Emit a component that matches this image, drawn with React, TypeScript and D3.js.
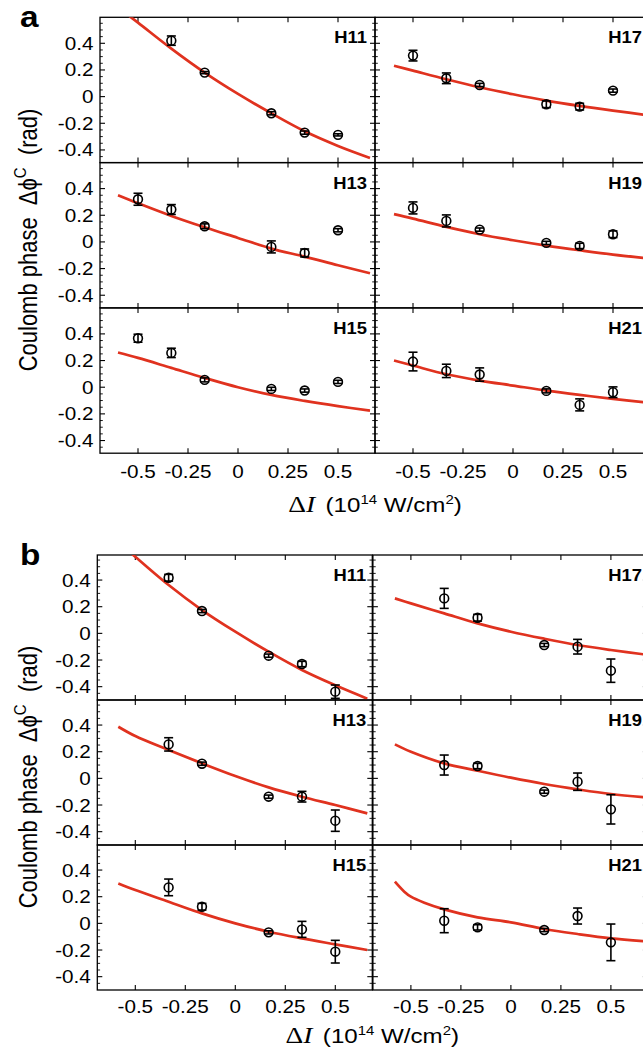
import React from "react";
import * as d3 from "d3";

// ---------- data ----------
const X_TICKS = [-0.5, -0.25, 0, 0.25, 0.5];
const X_TICK_LABELS = ["-0.5", "-0.25", "0", "0.25", "0.5"];
const Y_TICKS = [0.4, 0.2, 0, -0.2, -0.4];
const Y_TICK_LABELS = ["0.4", "0.2", "0", "-0.2", "-0.4"];
const Y_MINOR = [-0.45, -0.35, -0.3, -0.25, -0.15, -0.1, -0.05, 0.05, 0.1, 0.15, 0.25, 0.3, 0.35, 0.45, 0.5, 0.55];
const HARM_LEFT = ["H11", "H13", "H15"];
const HARM_RIGHT = ["H17", "H19", "H21"];

const X6 = [-0.5, -1 / 3, -1 / 6, 1 / 6, 1 / 3, 0.5];
const X5 = [-1 / 3, -1 / 6, 1 / 6, 1 / 3, 0.5];

// panel a measurements
const A_H11_Y = [0.42, 0.18, -0.125, -0.27, -0.287];
const A_H11_E = [0.035, 0.008, 0.012, 0.012, 0.008];
const A_H13_Y = [0.32, 0.243, 0.1175, -0.0375, -0.083, 0.0875];
const A_H13_E = [0.045, 0.037, 0.018, 0.045, 0.03, 0.012];
const A_H15_Y = [0.3675, 0.2575, 0.055, -0.0125, -0.025, 0.04];
const A_H15_E = [0.03, 0.035, 0.015, 0.012, 0.012, 0.012];
const A_H17_Y = [0.3075, 0.1375, 0.0875, -0.0575, -0.075, 0.045];
const A_H17_E = [0.04, 0.04, 0.012, 0.025, 0.025, 0.012];
const A_H19_Y = [0.255, 0.1575, 0.0925, -0.0075, -0.03, 0.0575];
const A_H19_E = [0.045, 0.045, 0.012, 0.012, 0.02, 0.025];
const A_H21_Y = [0.1925, 0.1225, 0.095, -0.0275, -0.1325, -0.0375];
const A_H21_E = [0.07, 0.05, 0.05, 0.015, 0.045, 0.04];

// panel b measurements
const B_H11_Y = [0.4175, 0.1675, -0.1675, -0.23, -0.4375];
const B_H11_E = [0.025, 0.012, 0.012, 0.02, 0.05];
const B_H13_Y = [0.255, 0.11, -0.1375, -0.1375, -0.3175];
const B_H13_E = [0.05, 0.012, 0.012, 0.04, 0.08];
const B_H15_Y = [0.27, 0.125, -0.0675, -0.045, -0.2125];
const B_H15_E = [0.0625, 0.025, 0.012, 0.06, 0.085];
const B_H17_Y = [0.2625, 0.1175, -0.0875, -0.1, -0.28];
const B_H17_E = [0.075, 0.025, 0.012, 0.055, 0.0875];
const B_H19_Y = [0.1, 0.0925, -0.1, -0.025, -0.2325];
const B_H19_E = [0.075, 0.02, 0.012, 0.065, 0.11];
const B_H21_Y = [0.02, -0.03, -0.05, 0.055, -0.1425];
const B_H21_E = [0.09, 0.02, 0.012, 0.06, 0.1375];

// theory curves
const CX_A = [-0.6, -0.5, -1 / 3, -1 / 6, 0, 1 / 6, 1 / 3, 0.5, 0.66];
const CX_AR = [-0.595, -0.5, -1 / 3, -1 / 6, 0, 1 / 6, 1 / 3, 0.5, 0.69];
const CX_B = [-0.585, -0.5, -1 / 3, -1 / 6, 0, 1 / 6, 1 / 3, 0.5, 0.66];
const CX_BR = [-0.58, -0.5, -1 / 3, -1 / 6, 0, 1 / 6, 1 / 3, 0.5, 0.69];
const CX_B21 = [-0.58, -0.533, -0.5, -0.433, -1 / 3, -1 / 6, 0, 1 / 6, 1 / 3, 0.5, 0.69];

const A_H11_C = [0.67, 0.555, 0.36, 0.18, 0.02, -0.125, -0.26, -0.37, -0.46];
const A_H13_C = [0.35, 0.29, 0.195, 0.11, 0.03, -0.05, -0.11, -0.175, -0.235];
const A_H15_C = [0.26, 0.22, 0.145, 0.07, 0.0, -0.058, -0.103, -0.142, -0.175];
const A_H17_C = [0.232, 0.195, 0.13, 0.07, 0.0175, -0.03, -0.07, -0.105, -0.142];
const A_H19_C = [0.208, 0.175, 0.1125, 0.0575, 0.0125, -0.0275, -0.0625, -0.095, -0.125];
const A_H21_C = [0.2, 0.1625, 0.097, 0.05, 0.0125, -0.025, -0.0575, -0.0875, -0.1175];

const B_H11_C = [0.69, 0.575, 0.3625, 0.175, 0.0125, -0.1375, -0.275, -0.39, -0.49];
const B_H13_C = [0.3875, 0.3175, 0.2125, 0.1125, 0.0175, -0.0675, -0.1375, -0.2, -0.2625];
const B_H15_C = [0.3, 0.25, 0.1625, 0.075, 0.0, -0.0625, -0.1125, -0.1575, -0.2];
const B_H17_C = [0.2625, 0.225, 0.15, 0.075, 0.0125, -0.04, -0.0875, -0.125, -0.1625];
const B_H19_C = [0.255, 0.2, 0.1125, 0.0575, 0.005, -0.0425, -0.0825, -0.1175, -0.145];
const B_H21_C = [0.3125, 0.2375, 0.2, 0.155, 0.105, 0.045, 0.0075, -0.0425, -0.08, -0.1125, -0.1375];

// ---------- layout ----------
const W = 643;
const H = 1055;
const COL_W = 275;
const FONT = "'Liberation Sans', Arial, Helvetica, sans-serif";
const SERIF = "'Liberation Serif', 'Times New Roman', serif";
const SX = 1.15;
const RED = "#e0321f";

const FIGS = [
  { key: "a", left: 100, colStep: 275, top: 17.3, rowH: 145.3, yDom: [-0.495, 0.595], hInset: 8, tickLabBase: 25, titleBase: 512, yTitleC: 240 },
  { key: "b", left: 97.3, colStep: 275.6, top: 555, rowH: 145, yDom: [-0.5, 0.588], hInset: 6, tickLabBase: 23, titleBase: 1043, yTitleC: 777 },
];

type P = { fig: number; col: number; row: number; name: string; px: number[]; py: number[]; pe: number[]; cx: number[]; cy: number[] };

const PANELS: P[] = [
  { fig: 0, col: 0, row: 0, name: HARM_LEFT[0], px: X5, py: A_H11_Y, pe: A_H11_E, cx: CX_A, cy: A_H11_C },
  { fig: 0, col: 0, row: 1, name: HARM_LEFT[1], px: X6, py: A_H13_Y, pe: A_H13_E, cx: CX_A, cy: A_H13_C },
  { fig: 0, col: 0, row: 2, name: HARM_LEFT[2], px: X6, py: A_H15_Y, pe: A_H15_E, cx: CX_A, cy: A_H15_C },
  { fig: 0, col: 1, row: 0, name: HARM_RIGHT[0], px: X6, py: A_H17_Y, pe: A_H17_E, cx: CX_AR, cy: A_H17_C },
  { fig: 0, col: 1, row: 1, name: HARM_RIGHT[1], px: X6, py: A_H19_Y, pe: A_H19_E, cx: CX_AR, cy: A_H19_C },
  { fig: 0, col: 1, row: 2, name: HARM_RIGHT[2], px: X6, py: A_H21_Y, pe: A_H21_E, cx: CX_AR, cy: A_H21_C },
  { fig: 1, col: 0, row: 0, name: HARM_LEFT[0], px: X5, py: B_H11_Y, pe: B_H11_E, cx: CX_B, cy: B_H11_C },
  { fig: 1, col: 0, row: 1, name: HARM_LEFT[1], px: X5, py: B_H13_Y, pe: B_H13_E, cx: CX_B, cy: B_H13_C },
  { fig: 1, col: 0, row: 2, name: HARM_LEFT[2], px: X5, py: B_H15_Y, pe: B_H15_E, cx: CX_B, cy: B_H15_C },
  { fig: 1, col: 1, row: 0, name: HARM_RIGHT[0], px: X5, py: B_H17_Y, pe: B_H17_E, cx: CX_BR, cy: B_H17_C },
  { fig: 1, col: 1, row: 1, name: HARM_RIGHT[1], px: X5, py: B_H19_Y, pe: B_H19_E, cx: CX_BR, cy: B_H19_C },
  { fig: 1, col: 1, row: 2, name: HARM_RIGHT[2], px: X5, py: B_H21_Y, pe: B_H21_E, cx: CX_B21, cy: B_H21_C },
];

const xScale = d3.scaleLinear().domain([-0.69, 0.685]).range([0, COL_W]);

function Panel({ p, idx }: { p: P; idx: number }) {
  const f = FIGS[p.fig];
  const ox = f.left + p.col * f.colStep;
  const oy = f.top + p.row * f.rowH;
  const y = d3.scaleLinear().domain(f.yDom).range([f.rowH, 0]);
  const line = d3
    .line<number>()
    .x((_, i) => xScale(p.cx[i]))
    .y((d) => y(d))
    .curve(d3.curveCatmullRom.alpha(0.5));
  const clipId = `clip${idx}`;
  const cap = 4.5;
  return (
    <g transform={`translate(${ox},${oy})`}>
      <defs>
        <clipPath id={clipId}>
          <rect x={0} y={0} width={COL_W} height={f.rowH} />
        </clipPath>
      </defs>
      <rect x={0} y={0} width={COL_W} height={f.rowH} fill="none" stroke="#000" strokeWidth={1.3} />
      {X_TICKS.map((t) => (
        <g key={"xt" + t}>
          <line x1={xScale(t)} x2={xScale(t)} y1={0} y2={5} stroke="#000" strokeWidth={1.1} />
          <line x1={xScale(t)} x2={xScale(t)} y1={f.rowH} y2={f.rowH - 5} stroke="#000" strokeWidth={1.1} />
        </g>
      ))}
      {Y_TICKS.map((t) => (
        <g key={"yt" + t}>
          <line x1={0} x2={5} y1={y(t)} y2={y(t)} stroke="#000" strokeWidth={1.1} />
          <line x1={COL_W} x2={COL_W - 5} y1={y(t)} y2={y(t)} stroke="#000" strokeWidth={1.1} />
        </g>
      ))}
      {Y_MINOR.map((t) => (
        <g key={"ym" + t}>
          <line x1={0} x2={2.8} y1={y(t)} y2={y(t)} stroke="#000" strokeWidth={0.9} />
          <line x1={COL_W} x2={COL_W - 2.8} y1={y(t)} y2={y(t)} stroke="#000" strokeWidth={0.9} />
        </g>
      ))}
      <g clipPath={`url(#${clipId})`}>
        <path d={line(p.cy) || ""} fill="none" stroke={RED} strokeWidth={2.7} />
      </g>
      {p.py.map((v, i) => {
        const cx = xScale(p.px[i]);
        const e = p.pe[i];
        const y1 = y(v + e);
        const y2 = y(v - e);
        return (
          <g key={"pt" + i} stroke="#000" fill="none">
            <line x1={cx} x2={cx} y1={y1} y2={y2} strokeWidth={1.6} />
            <line x1={cx - cap} x2={cx + cap} y1={y1} y2={y1} strokeWidth={1.6} />
            <line x1={cx - cap} x2={cx + cap} y1={y2} y2={y2} strokeWidth={1.6} />
            <circle cx={cx} cy={y(v)} r={4.4} strokeWidth={1.6} />
          </g>
        );
      })}
      <text
        transform={`translate(${COL_W - f.hInset},${26}) scale(${SX},1)`}
        textAnchor="end"
        fontFamily={FONT}
        fontWeight="bold"
        fontSize={16}
      >
        {p.name}
      </text>
      {p.col === 0 &&
        Y_TICKS.map((t, i) => (
          <text
            key={"yl" + t}
            transform={`translate(${-6.5},${y(t) + 6.5}) scale(${SX},1)`}
            textAnchor="end"
            fontFamily={FONT}
            fontSize={18}
          >
            {Y_TICK_LABELS[i]}
          </text>
        ))}
      {p.row === 2 &&
        X_TICKS.map((t, i) => (
          <text
            key={"xl" + t}
            transform={`translate(${xScale(t)},${f.rowH + f.tickLabBase}) scale(${SX},1)`}
            textAnchor="middle"
            fontFamily={FONT}
            fontSize={18}
          >
            {X_TICK_LABELS[i]}
          </text>
        ))}
    </g>
  );
}

export default function App() {
  return (
    <svg
      width={W}
      height={H}
      viewBox={`0 0 ${W} ${H}`}
      style={{ position: "absolute", left: 0, top: 0, background: "#fff" }}
    >
      <rect x={0} y={0} width={W} height={H} fill="#fff" />
      {PANELS.map((p, i) => (
        <Panel key={i} p={p} idx={i} />
      ))}
      {FIGS.map((f) => (
        <g key={f.key}>
          <text
            transform={`translate(${20},${f.top + 10}) scale(${SX},1)`}
            fontFamily={FONT}
            fontWeight="bold"
            fontSize={29}
          >
            {f.key}
          </text>
          <text
            transform={`translate(${37},${f.yTitleC}) scale(${SX},1) rotate(-90)`}
            textAnchor="middle"
            fontFamily={FONT}
            fontSize={22}
          >
            Coulomb phase{"\u00a0\u00a0"}Δϕ
            <tspan fontSize={15} dy={-10}>
              C
            </tspan>
            <tspan dy={10}>{"\u00a0\u00a0"}(rad)</tspan>
          </text>
          <text
            transform={`translate(${f.left + COL_W},${f.titleBase}) scale(${SX},1)`}
            textAnchor="middle"
            fontFamily={FONT}
            fontSize={21}
          >
            <tspan fontFamily={SERIF} fontSize={24}>
              Δ
            </tspan>
            <tspan fontFamily={SERIF} fontSize={24} fontStyle="italic">
              I
            </tspan>
            <tspan dx={9}>(10</tspan>
            <tspan fontSize={13} dy={-8}>
              14
            </tspan>
            <tspan dy={8}> W/cm</tspan>
            <tspan fontSize={13} dy={-8}>
              2
            </tspan>
            <tspan dy={8}>)</tspan>
          </text>
        </g>
      ))}
    </svg>
  );
}
